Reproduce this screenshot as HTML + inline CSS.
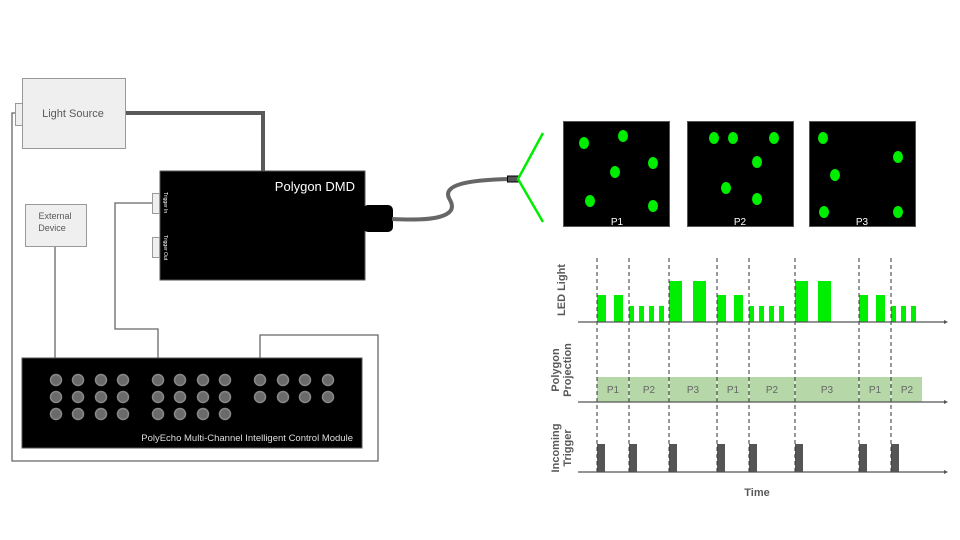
<!DOCTYPE html>
<html><head><meta charset="utf-8"><style>body{margin:0;background:#fff}svg{display:block}</style></head><body>
<svg width="960" height="540" viewBox="0 0 960 540" xmlns="http://www.w3.org/2000/svg" font-family="Liberation Sans, sans-serif">
<rect width="960" height="540" fill="#fff"/>
<g fill="none" stroke="#666" stroke-width="1.3">
<polyline points="15,113 12,113 12,461 378,461 378,335 260,335 260,380"/>
<polyline points="152,203 115,203 115,329 158,329 158,380"/>
<line x1="55" y1="246" x2="55" y2="380"/>
</g>
<polyline points="125,113 263,113 263,171" fill="none" stroke="#595959" stroke-width="4"/>
<rect x="22.5" y="78.5" width="103" height="70" fill="#efefef" stroke="#999"/>
<rect x="15.5" y="103.5" width="7" height="22" fill="#efefef" stroke="#999"/>
<text x="73" y="117" font-size="11" fill="#595959" text-anchor="middle">Light Source</text>
<rect x="25.5" y="204.5" width="61" height="42" fill="#efefef" stroke="#999"/>
<text x="55" y="219" font-size="9" fill="#595959" text-anchor="middle">External</text>
<text x="52" y="231" font-size="9" fill="#595959" text-anchor="middle">Device</text>
<rect x="160" y="171" width="205" height="109" fill="#000" stroke="#555"/>
<rect x="363" y="205" width="30" height="27" rx="5" fill="#000"/>
<text x="355" y="191" font-size="13" fill="#fff" text-anchor="end">Polygon DMD</text>
<rect x="152.5" y="193.5" width="7" height="20" fill="#efefef" stroke="#999"/>
<rect x="152.5" y="237.5" width="7" height="20" fill="#efefef" stroke="#999"/>
<text transform="translate(164,192) rotate(90)" font-size="5" fill="#fff">Trigger In</text>
<text transform="translate(164,235) rotate(90)" font-size="5" fill="#fff">Trigger Out</text>
<path d="M392,219 C430,221 460,218 450,200 C440,184 470,180 510,179" fill="none" stroke="#666" stroke-width="4"/>
<rect x="507.5" y="176" width="11" height="6" fill="#555" stroke="#000"/>
<polyline points="543,133 518,179 543,222" fill="none" stroke="#00ee00" stroke-width="2.5"/>
<g stroke="#555"><rect x="563.5" y="121.5" width="106" height="105" fill="#000"/><rect x="687.5" y="121.5" width="106" height="105" fill="#000"/><rect x="809.5" y="121.5" width="106" height="105" fill="#000"/></g>
<g fill="#00ee00">
<ellipse cx="584" cy="143" rx="5" ry="6"/><ellipse cx="623" cy="136" rx="5" ry="6"/><ellipse cx="653" cy="163" rx="5" ry="6"/><ellipse cx="615" cy="172" rx="5" ry="6"/><ellipse cx="590" cy="201" rx="5" ry="6"/><ellipse cx="653" cy="206" rx="5" ry="6"/>
<ellipse cx="714" cy="138" rx="5" ry="6"/><ellipse cx="733" cy="138" rx="5" ry="6"/><ellipse cx="774" cy="138" rx="5" ry="6"/><ellipse cx="757" cy="162" rx="5" ry="6"/><ellipse cx="726" cy="188" rx="5" ry="6"/><ellipse cx="757" cy="199" rx="5" ry="6"/>
<ellipse cx="823" cy="138" rx="5" ry="6"/><ellipse cx="898" cy="157" rx="5" ry="6"/><ellipse cx="835" cy="175" rx="5" ry="6"/><ellipse cx="824" cy="212" rx="5" ry="6"/><ellipse cx="898" cy="212" rx="5" ry="6"/>
</g>
<g font-size="10" fill="#fff" text-anchor="middle"><text x="617" y="225">P1</text><text x="740" y="225">P2</text><text x="862" y="225">P3</text></g>
<rect x="22" y="358" width="340" height="90" fill="#000" stroke="#555"/>
<g fill="#6a6a6a" stroke="#888" stroke-width="1.5">
<circle cx="56" cy="380" r="5.5"/><circle cx="78" cy="380" r="5.5"/><circle cx="101" cy="380" r="5.5"/><circle cx="123" cy="380" r="5.5"/>
<circle cx="56" cy="397" r="5.5"/><circle cx="78" cy="397" r="5.5"/><circle cx="101" cy="397" r="5.5"/><circle cx="123" cy="397" r="5.5"/>
<circle cx="56" cy="414" r="5.5"/><circle cx="78" cy="414" r="5.5"/><circle cx="101" cy="414" r="5.5"/><circle cx="123" cy="414" r="5.5"/>
<circle cx="158" cy="380" r="5.5"/><circle cx="180" cy="380" r="5.5"/><circle cx="203" cy="380" r="5.5"/><circle cx="225" cy="380" r="5.5"/>
<circle cx="158" cy="397" r="5.5"/><circle cx="180" cy="397" r="5.5"/><circle cx="203" cy="397" r="5.5"/><circle cx="225" cy="397" r="5.5"/>
<circle cx="158" cy="414" r="5.5"/><circle cx="180" cy="414" r="5.5"/><circle cx="203" cy="414" r="5.5"/><circle cx="225" cy="414" r="5.5"/>
<circle cx="260" cy="380" r="5.5"/><circle cx="283" cy="380" r="5.5"/><circle cx="305" cy="380" r="5.5"/><circle cx="328" cy="380" r="5.5"/>
<circle cx="260" cy="397" r="5.5"/><circle cx="283" cy="397" r="5.5"/><circle cx="305" cy="397" r="5.5"/><circle cx="328" cy="397" r="5.5"/>
</g>
<text x="353" y="441" font-size="9.5" fill="#ddd" text-anchor="end">PolyEcho Multi-Channel Intelligent Control Module</text>
<rect x="597" y="377" width="325" height="25" fill="#b6d7a8"/>
<g stroke="#fff" stroke-width="1"><line x1="629" y1="377" x2="629" y2="402"/><line x1="669" y1="377" x2="669" y2="402"/><line x1="717" y1="377" x2="717" y2="402"/><line x1="749" y1="377" x2="749" y2="402"/><line x1="795" y1="377" x2="795" y2="402"/><line x1="859" y1="377" x2="859" y2="402"/><line x1="891" y1="377" x2="891" y2="402"/></g>
<g font-size="10" fill="#666" text-anchor="middle"><text x="613" y="393">P1</text><text x="649" y="393">P2</text><text x="693" y="393">P3</text><text x="733" y="393">P1</text><text x="772" y="393">P2</text><text x="827" y="393">P3</text><text x="875" y="393">P1</text><text x="907" y="393">P2</text></g>
<g fill="#00ee00">
<rect x="597" y="295" width="9" height="27"/><rect x="614" y="295" width="9" height="27"/>
<rect x="629" y="306" width="5" height="16"/><rect x="639" y="306" width="5" height="16"/><rect x="649" y="306" width="5" height="16"/><rect x="659" y="306" width="5" height="16"/>
<rect x="669" y="281" width="13" height="41"/><rect x="693" y="281" width="13" height="41"/>
<rect x="717" y="295" width="9" height="27"/><rect x="734" y="295" width="9" height="27"/>
<rect x="749" y="306" width="5" height="16"/><rect x="759" y="306" width="5" height="16"/><rect x="769" y="306" width="5" height="16"/><rect x="779" y="306" width="5" height="16"/>
<rect x="795" y="281" width="13" height="41"/><rect x="818" y="281" width="13" height="41"/>
<rect x="859" y="295" width="9" height="27"/><rect x="876" y="295" width="9" height="27"/>
<rect x="891" y="306" width="5" height="16"/><rect x="901" y="306" width="5" height="16"/><rect x="911" y="306" width="5" height="16"/>
</g>
<g fill="#555"><rect x="597" y="444" width="8" height="28"/><rect x="629" y="444" width="8" height="28"/><rect x="669" y="444" width="8" height="28"/><rect x="717" y="444" width="8" height="28"/><rect x="749" y="444" width="8" height="28"/><rect x="795" y="444" width="8" height="28"/><rect x="859" y="444" width="8" height="28"/><rect x="891" y="444" width="8" height="28"/></g>
<g stroke="#333" stroke-dasharray="4,3" stroke-width="1"><line x1="597" y1="258" x2="597" y2="472"/><line x1="629" y1="258" x2="629" y2="472"/><line x1="669" y1="258" x2="669" y2="472"/><line x1="717" y1="258" x2="717" y2="472"/><line x1="749" y1="258" x2="749" y2="472"/><line x1="795" y1="258" x2="795" y2="472"/><line x1="859" y1="258" x2="859" y2="472"/><line x1="891" y1="258" x2="891" y2="472"/></g>
<g stroke="#555" stroke-width="1.3"><line x1="578" y1="322" x2="944" y2="322"/><line x1="578" y1="402" x2="944" y2="402"/><line x1="578" y1="472" x2="944" y2="472"/></g>
<g fill="#555"><polygon points="944,320 948,322 944,324"/><polygon points="944,400 948,402 944,404"/><polygon points="944,470 948,472 944,474"/></g>
<g font-size="11" font-weight="bold" fill="#595959" text-anchor="middle">
<text transform="translate(565,290) rotate(-90)">LED Light</text>
<text transform="translate(559,370) rotate(-90)">Polygon</text>
<text transform="translate(571,370) rotate(-90)">Projection</text>
<text transform="translate(559,448) rotate(-90)">Incoming</text>
<text transform="translate(571,448) rotate(-90)">Trigger</text>
<text x="757" y="496">Time</text>
</g>
</svg>
</body></html>
